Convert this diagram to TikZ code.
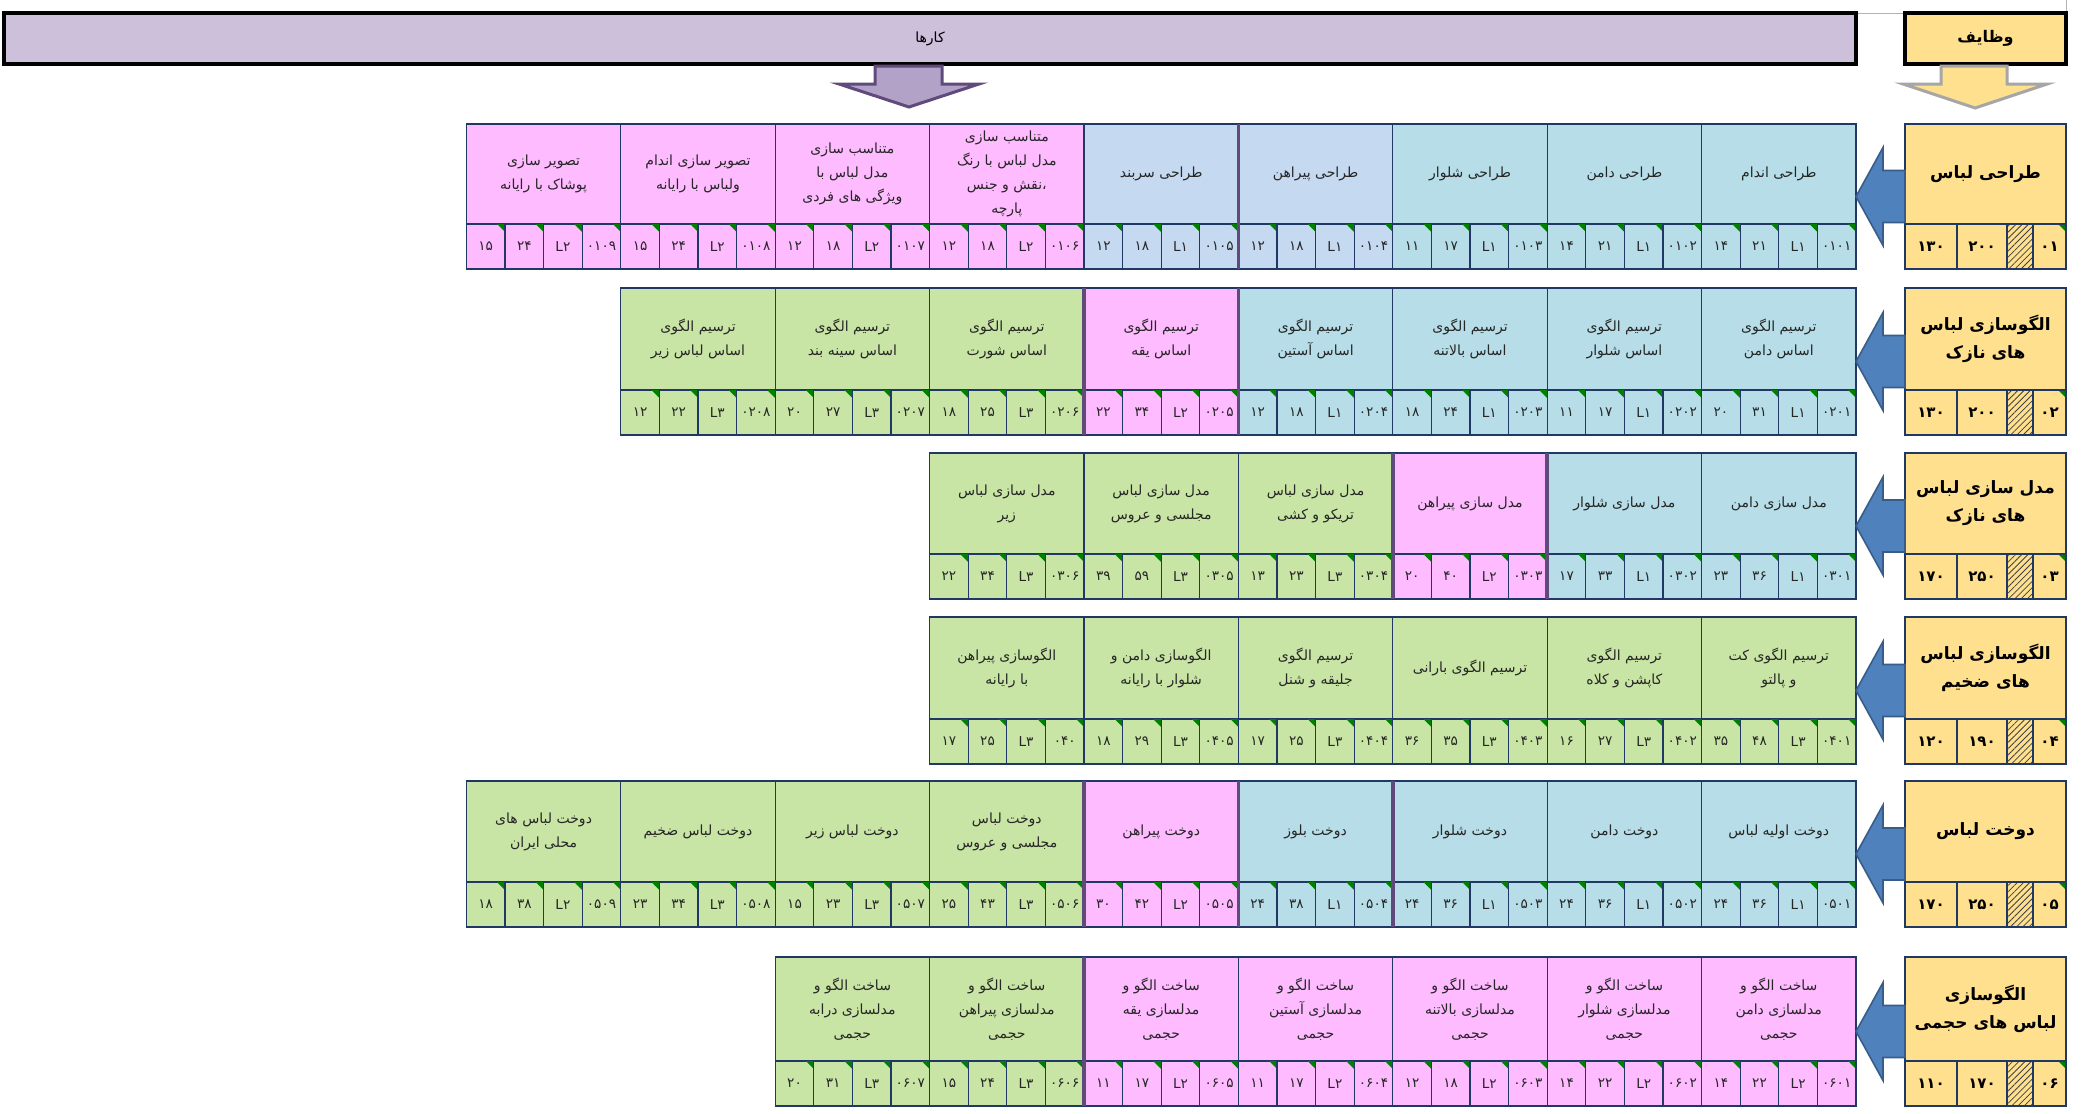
\documentclass[tikz,border=0pt]{standalone}
\usepackage{fontspec}
\setmainfont{DejaVu Sans}
\newfontfamily\arabicfont[Script=Arabic]{DejaVu Sans}
\TeXXeTstate=1
\usetikzlibrary{patterns.meta}

\definecolor{barlav}{HTML}{CCC0DA}
\definecolor{arrlav}{HTML}{B3A2C7}
\definecolor{darkpurple}{HTML}{604A7B}
\definecolor{hyellow}{HTML}{FFE08F}
\definecolor{cblue}{HTML}{B7DEE8}
\definecolor{cperi}{HTML}{C5D9F1}
\definecolor{cpink}{HTML}{FFBBFF}
\definecolor{cgreen}{HTML}{C9E5A5}
\definecolor{navyline}{HTML}{1F3864}
\definecolor{arrblue}{HTML}{4F81BD}
\definecolor{arrblueline}{HTML}{385D8A}
\definecolor{flaggreen}{HTML}{008000}

\newcommand{\fatext}[1]{\beginR#1\endR}

\tikzset{
  cellline/.style={draw=navyline, line width=0.6pt},
  grpline/.style={draw=darkpurple, line width=1.8pt},
  flag/.style={fill=flaggreen},
  tasktext/.style={align=center, text=black!85, inner sep=0pt,
    font=\arabicfont\fontsize{7}{12}\selectfont},
  numtext/.style={text=black!85, inner sep=0pt,
    font=\arabicfont\fontsize{6.8}{8}\selectfont},
  headtext/.style={align=center, inner sep=0pt,
    font=\arabicfont\bfseries\fontsize{8.5}{14}\selectfont},
  headnum/.style={inner sep=0pt, font=\arabicfont\bfseries\fontsize{7.5}{9}\selectfont},
  blockarrow/.style={fill=arrblue, draw=arrblueline, line width=0.8pt},
}

% one row of tasks: #1 row, #2 top y, #3 height of the text part, #4 cells
\newcommand{\taskrow}[4]{%
  \foreach \fc/\txt/\na/\nb/\lv/\cd [count=\k] in {#4}{
    \pgfmathsetmacro{\xr}{1856-(\k-1)*154.4}
    \pgfmathsetmacro{\xl}{\xr-154.4}
    \pgfmathsetmacro{\ys}{#2+#3}
    \pgfmathsetmacro{\yb}{#2+#3+45}
    \fill[fill=\fc] (\xl,#2) rectangle (\xr,\yb);
    \node[tasktext] (task#1-\k) at ({(\xl+\xr)/2},{#2+#3/2}) {\txt};
    \foreach \val [count=\j] in {\na,\nb,L\lv,\cd}{
      \pgfmathsetmacro{\sxl}{\xl+(\j-1)*38.6}
      \pgfmathsetmacro{\sxr}{\sxl+38.6}
      \draw[cellline] (\sxl,\ys) rectangle (\sxr,\yb);
      \fill[flag] (\sxr-8,\ys) -- (\sxr,\ys) -- (\sxr,\ys+8) -- cycle;
      \node[numtext] (num#1-\k-\j) at ({(\sxl+\sxr)/2},{(\ys+\yb)/2}) {\val};
    }
    \draw[cellline] (\xl,#2) rectangle (\xr,\yb);
  }
}

% duty box at the right: #1 row, #2 top y, #3 height, #4 title, #5 #6 hours, #7 code
\newcommand{\headrow}[7]{%
  \pgfmathsetmacro{\hs}{#2+#3}
  \pgfmathsetmacro{\hb}{#2+#3+45}
  \pgfmathsetmacro{\yc}{(#2+\hb)/2}
  \fill[hyellow] (1905,#2) rectangle (2066,\hb);
  \fill[pattern={Lines[angle=45,distance=2.2pt,line width=0.4pt]}, pattern color=black!75]
    (2007,\hs) rectangle (2033,\hb);
  \fill[flag] (2058,\hs) -- (2066,\hs) -- (2066,\hs+8) -- cycle;
  \draw[cellline] (1905,#2) rectangle (2066,\hb);
  \draw[cellline] (1905,\hs) -- (2066,\hs)
    (1957,\hs) -- (1957,\hb) (2007,\hs) -- (2007,\hb) (2033,\hs) -- (2033,\hb);
  \node[headtext] (duty#1) at (1985.5,{#2+#3/2}) {#4};
  \node[headnum] (duty#1-a) at (1931,{(\hs+\hb)/2}) {#5};
  \node[headnum] (duty#1-b) at (1982,{(\hs+\hb)/2}) {#6};
  \node[headnum] (duty#1-c) at (2049.5,{(\hs+\hb)/2}) {#7};
  \draw[blockarrow] (1856,\yc) -- (1883,\yc-49) -- (1883,\yc-26) -- (1905,\yc-26)
    -- (1905,\yc+26) -- (1883,\yc+26) -- (1883,\yc+49) -- cycle;
}

\begin{document}
\begin{tikzpicture}[x=0.5pt, y=-0.5pt]
  \useasboundingbox[fill=white] (0,0) rectangle (2089,1114);

  % top bars
  \draw[black!30, line width=0.4pt] (1856,13) -- (1905,13) (2066,0) -- (2066,13);
  \node[draw=black, line width=2pt, fill=barlav, minimum width=926pt, minimum height=25.5pt,
    font=\arabicfont\fontsize{7}{9}\selectfont] (jobs) at (930,38.5) {\fatext{کارها}};
  \node[draw=black, line width=2pt, fill=hyellow, minimum width=80.5pt, minimum height=25.5pt,
    font=\arabicfont\bfseries\fontsize{8}{10}\selectfont] (duties) at (1985.5,38.5) {\fatext{وظایف}};

  \draw[fill=arrlav, draw=darkpurple, line width=1.5pt] (875,66) -- (942,66) -- (942,84)
    -- (979,84) -- (909,107) -- (839,84) -- (875,84) -- cycle;
  \draw[fill=hyellow, draw=black!35, line width=1.5pt] (1941,66) -- (2007,66) -- (2007,84)
    -- (2047,84) -- (1975,108) -- (1903,84) -- (1941,84) -- cycle;

  % row 1
  \taskrow{1}{124}{100}{
    cblue/{\fatext{طراحی اندام}}/۱۴/۲۱/۱/۰۱۰۱,
    cblue/{\fatext{طراحی دامن}}/۱۴/۲۱/۱/۰۱۰۲,
    cblue/{\fatext{طراحی شلوار}}/۱۱/۱۷/۱/۰۱۰۳,
    cperi/{\fatext{طراحی پیراهن}}/۱۲/۱۸/۱/۰۱۰۴,
    cperi/{\fatext{طراحی سربند}}/۱۲/۱۸/۱/۰۱۰۵,
    cpink/{\fatext{متناسب سازی}\\\fatext{مدل لباس با رنگ}\\\fatext{،نقش و جنس}\\\fatext{پارچه}}/۱۲/۱۸/۲/۰۱۰۶,
    cpink/{\fatext{متناسب سازی}\\\fatext{مدل لباس با}\\\fatext{ویژگی های فردی}}/۱۲/۱۸/۲/۰۱۰۷,
    cpink/{\fatext{تصویر سازی اندام}\\\fatext{ولباس با رایانه}}/۱۵/۲۴/۲/۰۱۰۸,
    cpink/{\fatext{تصویر سازی}\\\fatext{پوشاک با رایانه}}/۱۵/۲۴/۲/۰۱۰۹}
  \headrow{1}{124}{100}{\fatext{طراحی لباس}}{۱۳۰}{۲۰۰}{۰۱}

  % row 2
  \taskrow{2}{288}{102}{
    cblue/{\fatext{ترسیم الگوی}\\\fatext{اساس دامن}}/۲۰/۳۱/۱/۰۲۰۱,
    cblue/{\fatext{ترسیم الگوی}\\\fatext{اساس شلوار}}/۱۱/۱۷/۱/۰۲۰۲,
    cblue/{\fatext{ترسیم الگوی}\\\fatext{اساس بالاتنه}}/۱۸/۲۴/۱/۰۲۰۳,
    cblue/{\fatext{ترسیم الگوی}\\\fatext{اساس آستین}}/۱۲/۱۸/۱/۰۲۰۴,
    cpink/{\fatext{ترسیم الگوی}\\\fatext{اساس یقه}}/۲۲/۳۴/۲/۰۲۰۵,
    cgreen/{\fatext{ترسیم الگوی}\\\fatext{اساس شورت}}/۱۸/۲۵/۳/۰۲۰۶,
    cgreen/{\fatext{ترسیم الگوی}\\\fatext{اساس سینه بند}}/۲۰/۲۷/۳/۰۲۰۷,
    cgreen/{\fatext{ترسیم الگوی}\\\fatext{اساس لباس زیر}}/۱۲/۲۲/۳/۰۲۰۸}
  \headrow{2}{288}{102}{\fatext{الگوسازی لباس}\\\fatext{های نازک}}{۱۳۰}{۲۰۰}{۰۲}

  % row 3
  \taskrow{3}{453}{101}{
    cblue/{\fatext{مدل سازی دامن}}/۲۳/۳۶/۱/۰۳۰۱,
    cblue/{\fatext{مدل سازی شلوار}}/۱۷/۳۳/۱/۰۳۰۲,
    cpink/{\fatext{مدل سازی پیراهن}}/۲۰/۴۰/۲/۰۳۰۳,
    cgreen/{\fatext{مدل سازی لباس}\\\fatext{تریکو و کشی}}/۱۳/۲۳/۳/۰۳۰۴,
    cgreen/{\fatext{مدل سازی لباس}\\\fatext{مجلسی و عروس}}/۳۹/۵۹/۳/۰۳۰۵,
    cgreen/{\fatext{مدل سازی لباس}\\\fatext{زیر}}/۲۲/۳۴/۳/۰۳۰۶}
  \headrow{3}{453}{101}{\fatext{مدل سازی لباس}\\\fatext{های نازک}}{۱۷۰}{۲۵۰}{۰۳}

  % row 4
  \taskrow{4}{617}{102}{
    cgreen/{\fatext{ترسیم الگوی کت}\\\fatext{و پالتو}}/۳۵/۴۸/۳/۰۴۰۱,
    cgreen/{\fatext{ترسیم الگوی}\\\fatext{کاپشن و کلاه}}/۱۶/۲۷/۳/۰۴۰۲,
    cgreen/{\fatext{ترسیم الگوی بارانی}}/۳۶/۳۵/۳/۰۴۰۳,
    cgreen/{\fatext{ترسیم الگوی}\\\fatext{جلیقه و شنل}}/۱۷/۲۵/۳/۰۴۰۴,
    cgreen/{\fatext{الگوسازی دامن و}\\\fatext{شلوار با رایانه}}/۱۸/۲۹/۳/۰۴۰۵,
    cgreen/{\fatext{الگوسازی پیراهن}\\\fatext{با رایانه}}/۱۷/۲۵/۳/۰۴۰}
  \headrow{4}{617}{102}{\fatext{الگوسازی لباس}\\\fatext{های ضخیم}}{۱۲۰}{۱۹۰}{۰۴}

  % row 5
  \taskrow{5}{781}{101}{
    cblue/{\fatext{دوخت اولیه لباس}}/۲۴/۳۶/۱/۰۵۰۱,
    cblue/{\fatext{دوخت دامن}}/۲۴/۳۶/۱/۰۵۰۲,
    cblue/{\fatext{دوخت شلوار}}/۲۴/۳۶/۱/۰۵۰۳,
    cblue/{\fatext{دوخت بلوز}}/۲۴/۳۸/۱/۰۵۰۴,
    cpink/{\fatext{دوخت پیراهن}}/۳۰/۴۲/۲/۰۵۰۵,
    cgreen/{\fatext{دوخت لباس}\\\fatext{مجلسی و عروس}}/۲۵/۴۳/۳/۰۵۰۶,
    cgreen/{\fatext{دوخت لباس زیر}}/۱۵/۲۳/۳/۰۵۰۷,
    cgreen/{\fatext{دوخت لباس ضخیم}}/۲۳/۳۴/۳/۰۵۰۸,
    cgreen/{\fatext{دوخت لباس های}\\\fatext{محلی ایران}}/۱۸/۳۸/۲/۰۵۰۹}
  \headrow{5}{781}{101}{\fatext{دوخت لباس}}{۱۷۰}{۲۵۰}{۰۵}

  % row 6
  \taskrow{6}{957}{104}{
    cpink/{\fatext{ساخت الگو و}\\\fatext{مدلسازی دامن}\\\fatext{حجمی}}/۱۴/۲۲/۲/۰۶۰۱,
    cpink/{\fatext{ساخت الگو و}\\\fatext{مدلسازی شلوار}\\\fatext{حجمی}}/۱۴/۲۲/۲/۰۶۰۲,
    cpink/{\fatext{ساخت الگو و}\\\fatext{مدلسازی بالاتنه}\\\fatext{حجمی}}/۱۲/۱۸/۲/۰۶۰۳,
    cpink/{\fatext{ساخت الگو و}\\\fatext{مدلسازی آستین}\\\fatext{حجمی}}/۱۱/۱۷/۲/۰۶۰۴,
    cpink/{\fatext{ساخت الگو و}\\\fatext{مدلسازی یقه}\\\fatext{حجمی}}/۱۱/۱۷/۲/۰۶۰۵,
    cgreen/{\fatext{ساخت الگو و}\\\fatext{مدلسازی پیراهن}\\\fatext{حجمی}}/۱۵/۲۴/۳/۰۶۰۶,
    cgreen/{\fatext{ساخت الگو و}\\\fatext{مدلسازی درابه}\\\fatext{حجمی}}/۲۰/۳۱/۳/۰۶۰۷}
  \headrow{6}{957}{104}{\fatext{الگوسازی}\\\fatext{لباس های حجمی}}{۱۱۰}{۱۷۰}{۰۶}

  % purple borders between groups
  \foreach \t/\bt/\b in {124/269/4, 288/435/4, 288/435/5, 453/599/2, 453/599/3,
      781/927/3, 781/927/4, 781/927/5, 957/1106/5}
    \draw[grpline] ({1856-\b*154.4},\t) -- ({1856-\b*154.4},\bt);
\end{tikzpicture}
\end{document}
